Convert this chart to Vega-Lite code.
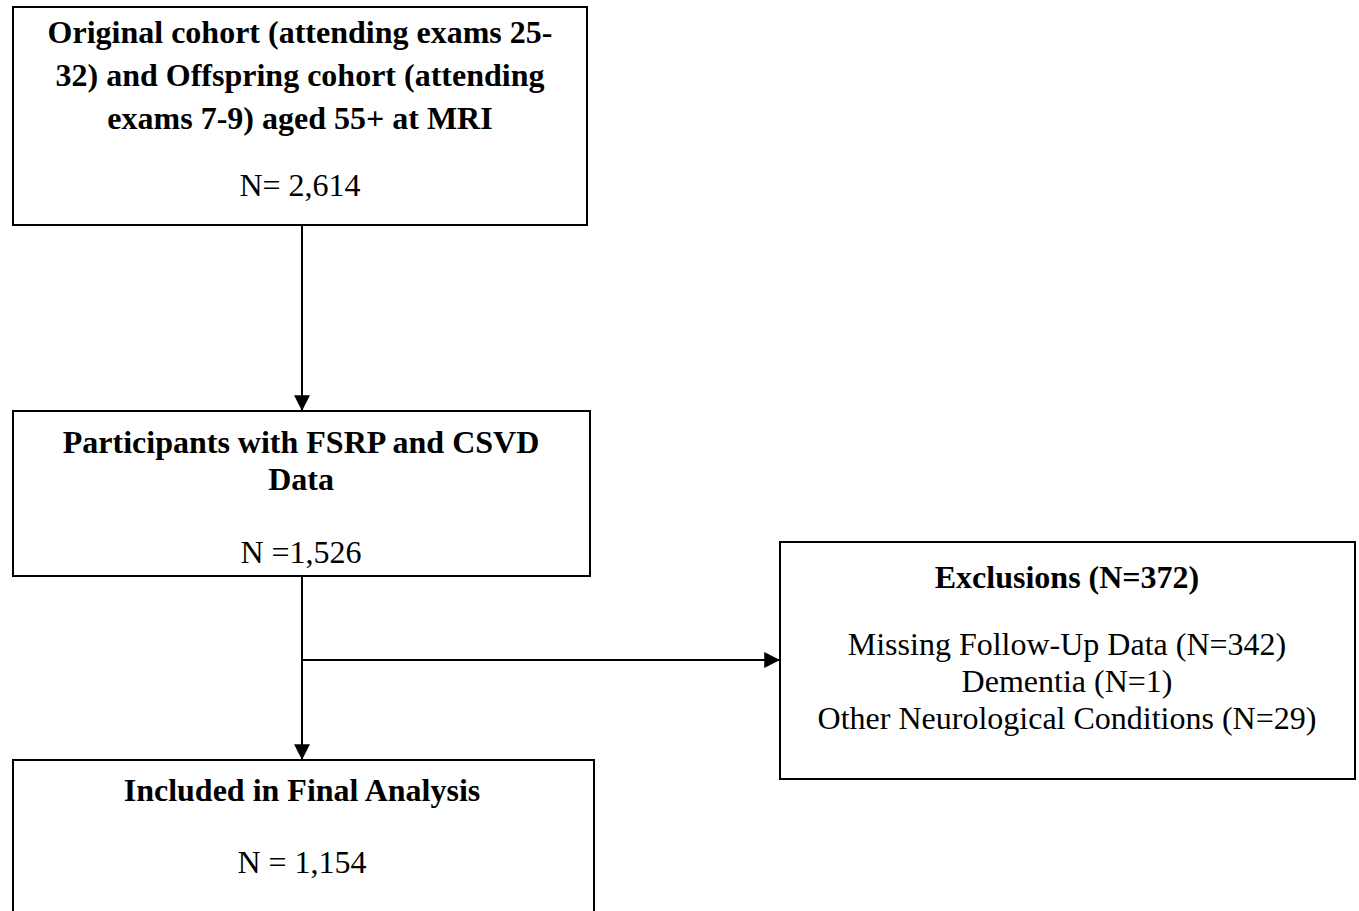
{
  "$schema": "https://vega.github.io/schema/vega-lite/v6.json",
  "width": 1359,
  "height": 911,
  "autosize": {"type": "none"},
  "padding": 0,
  "background": "white",
  "config": {"view": {"stroke": null}},
  "datasets": {
    "boxes": [
      {"id": "cohort", "x1": 13, "x2": 587, "y1": 7, "y2": 225},
      {"id": "fsrp", "x1": 13, "x2": 590, "y1": 411, "y2": 576},
      {"id": "excl", "x1": 780, "x2": 1355, "y1": 542, "y2": 779},
      {"id": "final", "x1": 13, "x2": 594, "y1": 760, "y2": 930}
    ],
    "links": [
      {"x1": 302, "y1": 225, "x2": 302, "y2": 411, "dir": "down"},
      {"x1": 302, "y1": 576, "x2": 302, "y2": 760, "dir": "down"},
      {"x1": 302, "y1": 660, "x2": 780, "y2": 660, "dir": "right"}
    ],
    "labels": [
      {"x": 300, "y": 33, "text": "Original cohort (attending exams 25-", "bold": true},
      {"x": 300, "y": 76, "text": "32) and Offspring cohort (attending", "bold": true},
      {"x": 300, "y": 119, "text": "exams 7-9) aged 55+ at MRI", "bold": true},
      {"x": 300, "y": 186, "text": "N= 2,614", "bold": false},
      {"x": 301, "y": 443, "text": "Participants with FSRP and CSVD", "bold": true},
      {"x": 301, "y": 480, "text": "Data", "bold": true},
      {"x": 301, "y": 553, "text": "N =1,526", "bold": false},
      {"x": 1067, "y": 578, "text": "Exclusions (N=372)", "bold": true},
      {"x": 1067, "y": 645, "text": "Missing Follow-Up Data (N=342)", "bold": false},
      {"x": 1067, "y": 682, "text": "Dementia (N=1)", "bold": false},
      {"x": 1067, "y": 719, "text": "Other Neurological Conditions (N=29)", "bold": false},
      {"x": 302, "y": 791, "text": "Included in Final Analysis", "bold": true},
      {"x": 302, "y": 863, "text": "N = 1,154", "bold": false}
    ]
  },
  "layer": [
    {
      "data": {"name": "boxes"},
      "mark": {"type": "rect", "fill": "transparent", "stroke": "black", "strokeWidth": 2, "clip": true},
      "encoding": {
        "x": {"field": "x1", "type": "quantitative", "scale": {"domain": [0, 1359], "nice": false, "zero": false}, "axis": null},
        "x2": {"field": "x2"},
        "y": {"field": "y1", "type": "quantitative", "scale": {"domain": [0, 911], "nice": false, "zero": false, "reverse": true}, "axis": null},
        "y2": {"field": "y2"}
      }
    },
    {
      "data": {"name": "links"},
      "mark": {"type": "rule", "color": "black", "strokeWidth": 2},
      "encoding": {
        "x": {"field": "x1", "type": "quantitative"},
        "x2": {"field": "x2"},
        "y": {"field": "y1", "type": "quantitative"},
        "y2": {"field": "y2"}
      }
    },
    {
      "data": {"name": "links"},
      "mark": {"type": "point", "filled": true, "color": "black", "opacity": 1, "size": 900},
      "encoding": {
        "x": {"field": "x2", "type": "quantitative"},
        "y": {"field": "y2", "type": "quantitative"},
        "shape": {"field": "dir", "type": "nominal", "legend": null,
          "scale": {"domain": ["down", "right"], "range": ["M0,0L-0.53,-1.05L0.53,-1.05Z", "M0,0L-1.05,-0.53L-1.05,0.53Z"]}}
      }
    },
    {
      "data": {"name": "labels"},
      "transform": [{"filter": "datum.bold"}],
      "mark": {"type": "text", "font": "Liberation Serif", "fontSize": 32, "fontWeight": "bold", "color": "black", "align": "center", "baseline": "middle"},
      "encoding": {
        "x": {"field": "x", "type": "quantitative"},
        "y": {"field": "y", "type": "quantitative"},
        "text": {"field": "text"}
      }
    },
    {
      "data": {"name": "labels"},
      "transform": [{"filter": "!datum.bold"}],
      "mark": {"type": "text", "font": "Liberation Serif", "fontSize": 32, "fontWeight": "normal", "color": "black", "align": "center", "baseline": "middle"},
      "encoding": {
        "x": {"field": "x", "type": "quantitative"},
        "y": {"field": "y", "type": "quantitative"},
        "text": {"field": "text"}
      }
    }
  ]
}
